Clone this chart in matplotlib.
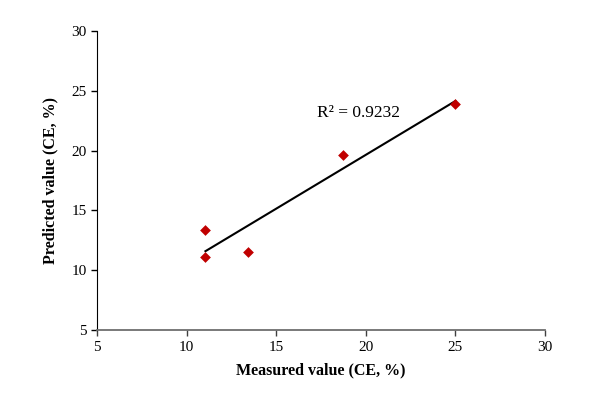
import matplotlib
matplotlib.use("Agg")
import matplotlib.pyplot as plt
import numpy as np

measured = [11.05, 11.05, 13.4, 18.7, 25.0]
predicted = [13.4, 11.1, 11.5, 19.6, 23.9]
r2_label = "R² = 0.9232"
xlabel = "Measured value (CE, %)"
ylabel = "Predicted value (CE, %)"
ticks = [5, 10, 15, 20, 25, 30]

plt.rcParams['font.family'] = ['Liberation Serif', 'DejaVu Serif']

fig = plt.figure(figsize=(5.97, 3.95), dpi=100)
ax = fig.add_axes([0.1625, 0.1646, 0.7505, 0.757])

x = np.array(measured)
y = np.array(predicted)
m, b = np.polyfit(x, y, 1)
xl = np.array([x.min(), x.max()])
ax.plot(xl, m * xl + b, color='black', lw=1.5, zorder=2)
ax.scatter(x, y, marker='D', s=30, color='#C00000', zorder=3, linewidths=0)

ax.text(19.6, 23.15, r2_label, fontsize=12.5, ha='center', va='center')

ax.set_xlim(5, 30)
ax.set_ylim(5, 30)
ax.set_xticks(ticks)
ax.set_yticks(ticks)
ax.tick_params(direction='out', length=4, width=1, labelsize=11, colors='black')
ax.spines['top'].set_visible(False)
ax.spines['right'].set_visible(False)
ax.spines['bottom'].set_color('#6e6e6e')
ax.spines['bottom'].set_linewidth(1.3)
ax.tick_params(axis='x', color='#404040', pad=4)
ax.set_xlabel(xlabel, fontsize=11.5, fontweight='bold', labelpad=6)
ax.set_ylabel(ylabel, fontsize=11.5, fontweight='bold', labelpad=9)

fig.savefig("out.png", dpi=100)
